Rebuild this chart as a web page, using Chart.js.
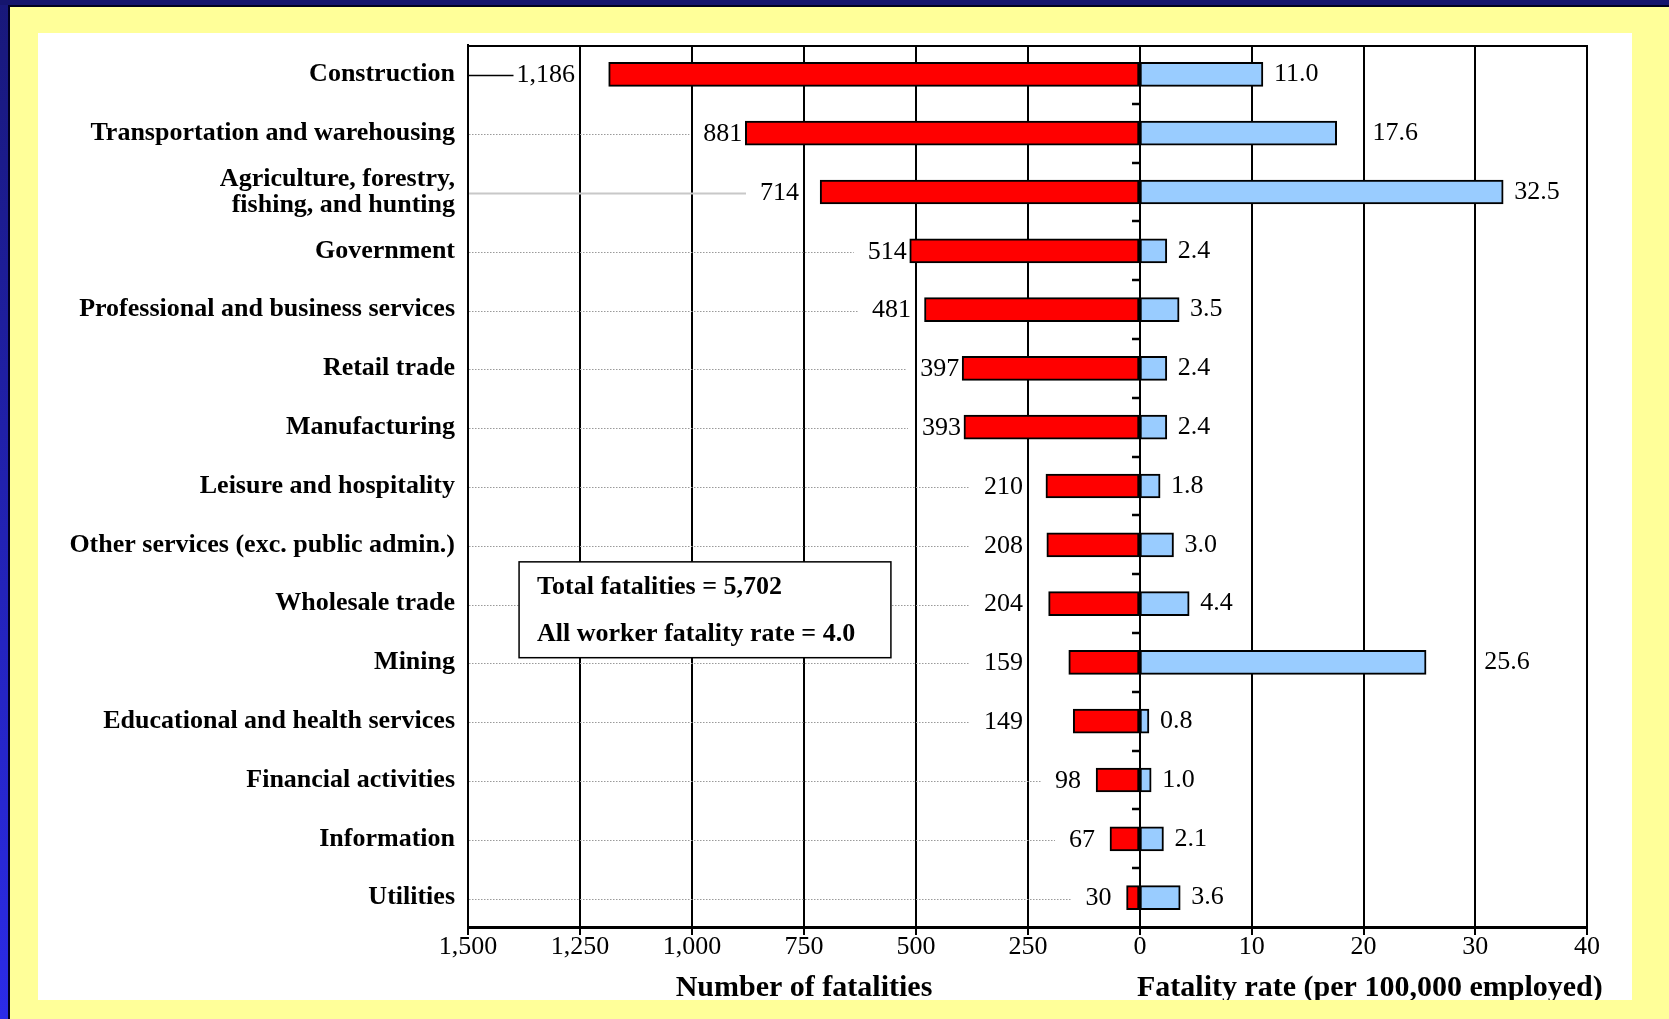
<!DOCTYPE html>
<html>
<head>
<meta charset="utf-8">
<title>Fatal occupational injuries by industry</title>
<script src="https://cdn.jsdelivr.net/npm/chart.js@4.4.1/dist/chart.umd.min.js"></script>
<style>
  html, body { margin: 0; padding: 0; background: #ffff99; overflow: hidden; }
  #wrap { width: 1669px; height: 1019px; }
</style>
</head>
<body>
<div id="wrap"><canvas id="grafico" width="1669" height="1019"></canvas></div>
<script>
const categories = [
    'Construction',
    'Transportation and warehousing',
    ['Agriculture, forestry,', 'fishing, and hunting'],
    'Government',
    'Professional and business services',
    'Retail trade',
    'Manufacturing',
    'Leisure and hospitality',
    'Other services (exc. public admin.)',
    'Wholesale trade',
    'Mining',
    'Educational and health services',
    'Financial activities',
    'Information',
    'Utilities'
];
const fatalities = [1186, 881, 714, 514, 481, 397, 393, 210, 208, 204, 159, 149, 98, 67, 30];
const rates = [11.0, 17.6, 32.5, 2.4, 3.5, 2.4, 2.4, 1.8, 3.0, 4.4, 25.6, 0.8, 1.0, 2.1, 3.6];
const fatalityTicks = [1500, 1250, 1000, 750, 500, 250, 0];
const rateTicks = [10, 20, 30, 40];
const totalFatalities = 5702;
const allWorkerRate = 4.0;

const serif = "'Liberation Serif', 'Times New Roman', serif";
const SPLIT = 0.6005;   // share of the plot width used by the fatalities side

const fmtInt = v => v.toLocaleString('en-US');
const fmtRate = v => v.toFixed(1);

// leader line style per row (default dotted)
const leaderStyle = { 0: 'black', 2: 'gray' };

Chart.defaults.font.family = serif;
Chart.defaults.color = '#000';

// slide background: blue frame, yellow margin, white panel
const slide = {
    id: 'slide',
    beforeDraw(chart) {
        const { ctx, width: W, height: H } = chart;
        ctx.save();
        ctx.fillStyle = '#ffff99';
        ctx.fillRect(0, 0, W, H);
        const g = ctx.createLinearGradient(0, 0, 0, H);
        g.addColorStop(0, '#18187a');
        g.addColorStop(1, '#2b2be8');
        ctx.fillStyle = g;
        ctx.fillRect(0, 0, 8, H);
        ctx.fillStyle = '#15156e';
        ctx.fillRect(0, 0, W, 5);
        ctx.fillStyle = '#000022';
        ctx.fillRect(8, 5, W - 8, 2);
        ctx.fillRect(8, 5, 2, H - 5);
        ctx.fillStyle = '#ffffff';
        ctx.fillRect(38, 33, 1594, 967);
        ctx.restore();
    },
    afterDraw(chart) {
        const { ctx, width: W, height: H } = chart;
        ctx.save();
        ctx.fillStyle = '#ffff99';
        ctx.fillRect(10, 1000, W - 10, H - 1000);
        ctx.restore();
    }
};

// put the two x scales side by side on one baseline
const splitAxes = {
    id: 'splitAxes',
    afterLayout(chart) {
        const a = chart.chartArea;
        const xL = chart.scales.xL, xR = chart.scales.xR;
        const mid = Math.round(a.left + (a.right - a.left) * SPLIT);
        xL.left = a.left; xL.right = mid; xL.width = mid - a.left;
        xR.left = mid; xR.right = a.right; xR.width = a.right - mid;
        xR.top = xL.top; xR.bottom = xL.bottom; xR.height = xL.height;
        xL.configure();
        xR.configure();
    }
};

function placeLabels(chart) {
    const ctx = chart.ctx;
    const xL = chart.scales.xL, xR = chart.scales.xR;
    ctx.save();
    ctx.font = `26px ${serif}`;
    const left = chart.getDatasetMeta(0).data.map((bar, i) => {
        const text = fmtInt(fatalities[i]);
        const w = ctx.measureText(text).width;
        // short labels sit a little further from their bar
        let r = bar.x - (w < 30 ? 15 : 3);
        fatalityTicks.forEach(t => {
            const gx = xL.getPixelForValue(t);
            if (gx > r - w - 4 && gx < r + 3) r = gx - 5;
        });
        return { text, x: r, y: bar.y, w };
    });
    const right = chart.getDatasetMeta(1).data.map((bar, i) => {
        const text = fmtRate(rates[i]);
        const w = ctx.measureText(text).width;
        let l = bar.x + 11;
        rateTicks.forEach(t => {
            const gx = xR.getPixelForValue(t);
            if (gx > l - 3 && gx < l + w + 3) l = gx + 9;
        });
        return { text, x: l, y: bar.y, w };
    });
    ctx.restore();
    return { left, right };
}

const overlay = {
    id: 'overlay',
    beforeDatasetsDraw(chart) {
        const ctx = chart.ctx;
        const a = chart.chartArea;
        chart.$labels = placeLabels(chart);
        ctx.save();
        chart.$labels.left.forEach((lab, i) => {
            const style = leaderStyle[i] || 'dotted';
            const end = lab.x - lab.w - (style === 'black' ? 3 : 14);
            ctx.beginPath();
            if (style === 'black') {
                ctx.setLineDash([]);
                ctx.strokeStyle = '#000';
                ctx.lineWidth = 1.5;
            } else if (style === 'gray') {
                ctx.setLineDash([]);
                ctx.strokeStyle = '#c8c8c8';
                ctx.lineWidth = 2;
            } else {
                ctx.setLineDash([1.5, 1.5]);
                ctx.strokeStyle = '#9a9a9a';
                ctx.lineWidth = 1.2;
            }
            ctx.moveTo(a.left + 1, Math.round(lab.y) + 1.5);
            ctx.lineTo(end, Math.round(lab.y) + 1.5);
            ctx.stroke();
        });
        ctx.restore();

        // summary box
        const xL = chart.scales.xL, y = chart.scales.y;
        const bx1 = xL.getPixelForValue(1386), bx2 = xL.getPixelForValue(556);
        const by1 = y.getPixelForValue(8.29), by2 = y.getPixelForValue(9.92);
        ctx.save();
        ctx.fillStyle = '#fff';
        ctx.fillRect(bx1, by1, bx2 - bx1, by2 - by1);
        ctx.strokeStyle = '#000';
        ctx.lineWidth = 1.5;
        ctx.strokeRect(bx1, by1, bx2 - bx1, by2 - by1);
        ctx.font = `bold 26px ${serif}`;
        ctx.fillStyle = '#000';
        ctx.textAlign = 'left';
        ctx.textBaseline = 'middle';
        ctx.fillText(`Total fatalities = ${fmtInt(totalFatalities)}`, bx1 + 18, by1 + 25);
        ctx.fillText(`All worker fatality rate = ${fmtRate(allWorkerRate)}`, bx1 + 18, by1 + 72);
        ctx.restore();
    },
    afterDatasetsDraw(chart) {
        const ctx = chart.ctx;
        const a = chart.chartArea;
        const xL = chart.scales.xL, xR = chart.scales.xR, y = chart.scales.y;
        const zero = xR.getPixelForValue(0);
        ctx.save();

        // frame top
        ctx.strokeStyle = '#000';
        ctx.lineWidth = 2;
        ctx.beginPath();
        ctx.moveTo(a.left, a.top + 1);
        ctx.lineTo(a.right, a.top + 1);
        ctx.stroke();

        // short category ticks on the zero line
        ctx.lineWidth = 2.5;
        for (let i = 1; i < categories.length; i++) {
            const yy = Math.round((y.getPixelForValue(i - 1) + y.getPixelForValue(i)) / 2);
            ctx.beginPath();
            ctx.moveTo(zero - 8, yy);
            ctx.lineTo(zero, yy);
            ctx.stroke();
        }

        // value labels
        ctx.font = `26px ${serif}`;
        ctx.fillStyle = '#000';
        ctx.textBaseline = 'middle';
        ctx.textAlign = 'right';
        chart.$labels.left.forEach(lab => ctx.fillText(lab.text, lab.x, lab.y + 1));
        ctx.textAlign = 'left';
        chart.$labels.right.forEach(lab => ctx.fillText(lab.text, lab.x, lab.y));

        // axis titles
        ctx.font = `bold 30px ${serif}`;
        ctx.textAlign = 'center';
        ctx.fillText('Number of fatalities', (xL.left + xL.right) / 2, 988);
        ctx.textAlign = 'left';
        ctx.fillText('Fatality rate (per 100,000 employed)', xR.left - 3, 988);
        ctx.restore();
    }
};

const ctx = document.getElementById('grafico').getContext('2d');

const data = {
    labels: categories,
    datasets: [
        {
            label: 'Number of fatalities',
            data: fatalities,
            xAxisID: 'xL',
            backgroundColor: '#ff0000',
            borderColor: '#000',
            borderWidth: 2,
            borderSkipped: false,
            barThickness: 24,
            grouped: false
        },
        {
            label: 'Fatality rate (per 100,000 employed)',
            data: rates,
            xAxisID: 'xR',
            backgroundColor: '#99ccff',
            borderColor: '#000',
            borderWidth: 2,
            borderSkipped: false,
            barThickness: 24,
            grouped: false
        }
    ]
};

const config = {
    type: 'bar',
    data: data,
    options: {
        indexAxis: 'y',
        responsive: false,
        animation: false,
        devicePixelRatio: 1,
        layout: { padding: { left: 0, top: 45, right: 82, bottom: 0 } },
        plugins: {
            legend: { display: false },
            tooltip: { enabled: false }
        },
        scales: {
            y: {
                type: 'category',
                position: 'left',
                offset: true,
                grid: { display: false, drawTicks: false },
                border: { display: true, color: '#000', width: 2 },
                ticks: {
                    padding: 13,
                    autoSkip: false,
                    font: { size: 26, weight: 'bold', lineHeight: 1.0 },
                    color: '#000'
                },
                afterFit: s => { s.width = 468; }
            },
            xL: {
                type: 'linear',
                position: 'bottom',
                min: 0,
                max: 1500,
                reverse: true,
                grid: { color: '#000', lineWidth: 2, drawTicks: true, tickLength: 8, tickColor: '#000' },
                border: { display: true, color: '#000', width: 3 },
                ticks: {
                    padding: -3,
                    maxRotation: 0,
                    autoSkip: false,
                    font: { size: 26 },
                    color: '#000',
                    callback: v => fmtInt(v)
                },
                afterBuildTicks: s => { s.ticks = fatalityTicks.map(v => ({ value: v })); },
                afterFit: s => { s.height = 92; }
            },
            xR: {
                type: 'linear',
                position: 'bottom',
                min: 0,
                max: 40,
                grid: { color: '#000', lineWidth: 2, drawTicks: true, tickLength: 8, tickColor: '#000' },
                border: { display: true, color: '#000', width: 3 },
                ticks: {
                    padding: -3,
                    maxRotation: 0,
                    autoSkip: false,
                    font: { size: 26 },
                    color: '#000',
                    callback: v => String(v)
                },
                afterBuildTicks: s => { s.ticks = rateTicks.map(v => ({ value: v })); },
                afterFit: s => { s.height = 0; }
            }
        }
    },
    plugins: [slide, splitAxes, overlay]
};

new Chart(ctx, config);
</script>
</body>
</html>
